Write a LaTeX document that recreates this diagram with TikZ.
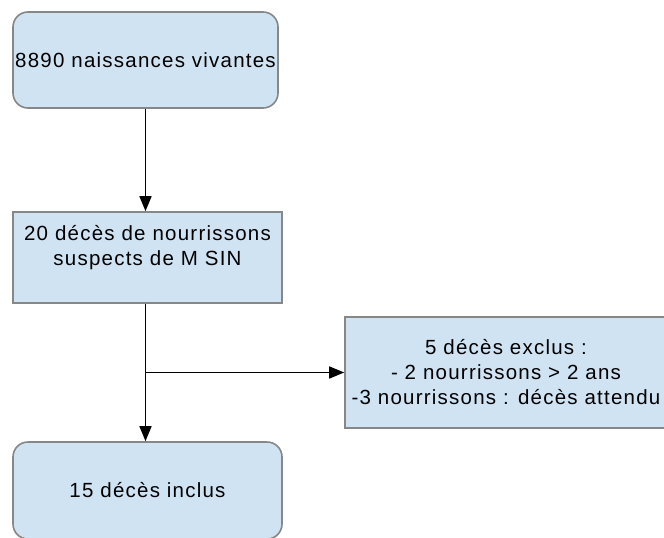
\documentclass[tikz,border=0pt]{standalone}
\usepackage{fontspec}
\setmainfont[LetterSpace=6]{Liberation Sans}
\usetikzlibrary{arrows.meta}
\definecolor{boxblue}{RGB}{208,227,243}
\definecolor{boxline}{RGB}{135,135,135}
\tikzstyle{stage}=[draw=boxline, fill=boxblue, line width=1.6pt, align=center, inner sep=0pt]
\tikzstyle{roundstage}=[stage, rounded corners=15pt]
\tikzstyle{flow}=[line width=1.6pt, -{Triangle[length=15pt,width=12pt]}]

\begin{document}
\begin{tikzpicture}[x=1pt, y=-1pt, font=\fontsize{20.5}{25}\selectfont]
                \useasboundingbox (0,0) rectangle (664,538);
                \node[roundstage, minimum width=265pt, minimum height=96pt] (births) at (145.5,60) {8890 naissances vivantes};
                \node[stage, minimum width=269pt, minimum height=91pt] (suspects) at (147.5,257.5) {20 décès de nourrissons\\suspects de M SIN\\~};
                \node[stage, minimum width=322pt, minimum height=111pt] (excluded) at (506,372.5) {5 décès exclus :\\- 2 nourrissons > 2 ans\\-3 nourrissons : décès attendu};
                \node[roundstage, minimum width=269pt, minimum height=97pt] (included) at (147.5,490.5) {15 décès inclus};
                \coordinate (split) at (births.south |- excluded.west);
                \draw[flow] (births.south)--(births.south |- suspects.north);
                \draw[line width=1.6pt] (births.south |- suspects.south)--(split);
                \draw[flow] (split)--(excluded.west);
                \draw[flow] (split)--(split |- included.north);
            \end{tikzpicture}
\end{document}
